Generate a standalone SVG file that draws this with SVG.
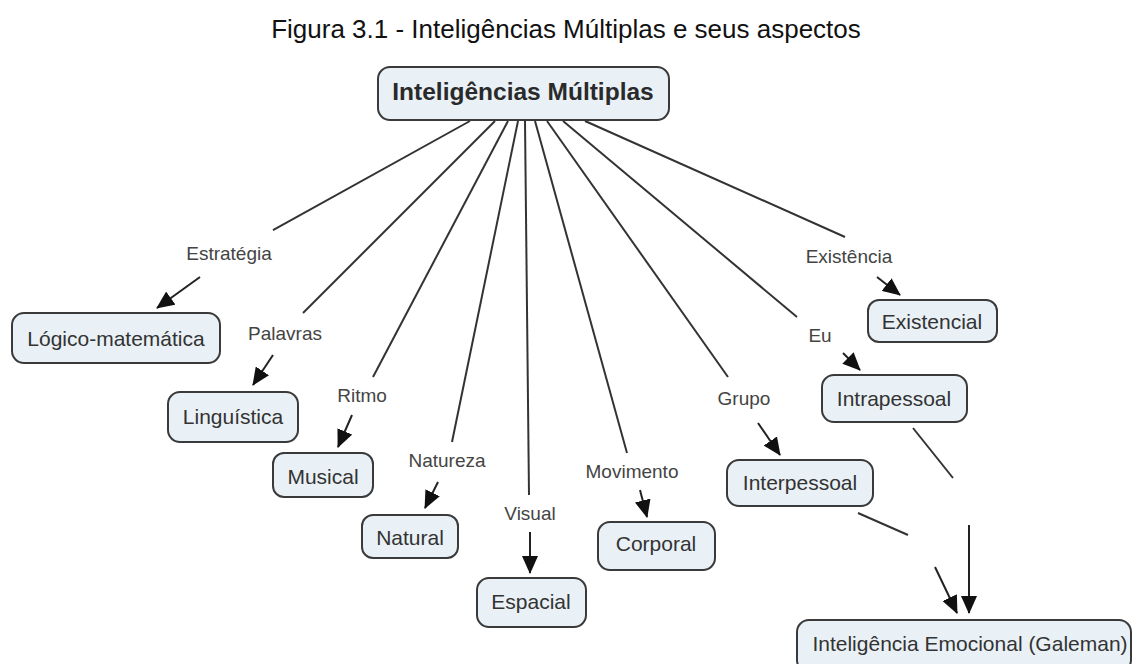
<svg xmlns="http://www.w3.org/2000/svg" width="1133" height="664" viewBox="0 0 1133 664">
<style>
.node rect{fill:#e9f1f6;stroke:#3a3a3a;stroke-width:2}
.node text{font-family:"Liberation Sans",Arial,sans-serif;font-size:21px;fill:#333;text-anchor:middle}
.lbl{font-family:"Liberation Sans",Arial,sans-serif;font-size:19px;fill:#444;text-anchor:middle}
.ln{stroke:#333;stroke-width:2;fill:none}
.ar{stroke:#222;stroke-width:2;fill:none;marker-end:url(#ah)}
</style>
<defs>
<marker id="ah" markerUnits="userSpaceOnUse" markerWidth="18" markerHeight="16" refX="17" refY="8" orient="auto">
<path d="M0,0 L18,8 L0,16 z" fill="#111"/>
</marker>
</defs>
<rect width="1133" height="664" fill="#fff"/>
<text x="566" y="38" font-family="'Liberation Sans',Arial,sans-serif" font-size="26" fill="#111" text-anchor="middle">Figura 3.1 - Inteligências Múltiplas e seus aspectos</text>
<g id="connectors">
<line class="ln" x1="470" y1="121" x2="273" y2="230"/>
<line class="ln" x1="495" y1="121" x2="303" y2="313"/>
<line class="ln" x1="508" y1="121" x2="373" y2="377"/>
<line class="ln" x1="518" y1="121" x2="452" y2="442"/>
<line class="ln" x1="525" y1="121" x2="529" y2="495"/>
<line class="ln" x1="535" y1="121" x2="627" y2="453"/>
<line class="ln" x1="547" y1="121" x2="728" y2="377"/>
<line class="ln" x1="563" y1="121" x2="797" y2="317"/>
<line class="ln" x1="585" y1="121" x2="845" y2="237"/>
<line class="ar" x1="200" y1="277" x2="157" y2="308"/>
<line class="ar" x1="273" y1="355" x2="253" y2="385"/>
<line class="ar" x1="352" y1="415" x2="338" y2="447"/>
<line class="ar" x1="438" y1="482" x2="425" y2="508"/>
<line class="ar" x1="530" y1="532" x2="530" y2="573"/>
<line class="ar" x1="640" y1="490" x2="647" y2="517"/>
<line class="ar" x1="758" y1="423" x2="780" y2="455"/>
<line class="ar" x1="843" y1="353" x2="860" y2="370"/>
<line class="ar" x1="877" y1="277" x2="900" y2="295"/>
<line class="ln" x1="858" y1="513" x2="908" y2="535"/>
<line class="ln" x1="913" y1="428" x2="953" y2="478"/>
<line class="ar" x1="935" y1="567" x2="957" y2="613"/>
<line class="ar" x1="969" y1="525" x2="969" y2="613"/>
<text class="lbl" x="229" y="260">Estratégia</text>
<text class="lbl" x="285" y="340">Palavras</text>
<text class="lbl" x="362" y="402">Ritmo</text>
<text class="lbl" x="447" y="467">Natureza</text>
<text class="lbl" x="530" y="520">Visual</text>
<text class="lbl" x="632" y="478">Movimento</text>
<text class="lbl" x="744" y="405">Grupo</text>
<text class="lbl" x="820" y="342">Eu</text>
<text class="lbl" x="849" y="263">Existência</text>
</g>
<g id="root" class="node"><rect x="378" y="67" width="291" height="53" rx="12"/><text x="523" y="100" style="font-weight:bold;font-size:24.5px;fill:#2a2a2a">Inteligências Múltiplas</text></g>
<g id="logico" class="node"><rect x="12" y="313" width="208" height="50" rx="12"/><text x="116" y="346">Lógico-matemática</text></g>
<g id="linguistica" class="node"><rect x="168" y="392" width="130" height="50" rx="12"/><text x="233" y="424">Linguística</text></g>
<g id="musical" class="node"><rect x="273" y="453" width="100" height="44" rx="11"/><text x="323" y="484">Musical</text></g>
<g id="natural" class="node"><rect x="362" y="515" width="96" height="43" rx="11"/><text x="410" y="545">Natural</text></g>
<g id="espacial" class="node"><rect x="477" y="578" width="109" height="49" rx="12"/><text x="531" y="609">Espacial</text></g>
<g id="corporal" class="node"><rect x="598" y="522" width="117" height="48" rx="12"/><text x="656" y="551">Corporal</text></g>
<g id="interpessoal" class="node"><rect x="727" y="460" width="146" height="46" rx="12"/><text x="800" y="490">Interpessoal</text></g>
<g id="intrapessoal" class="node"><rect x="822" y="375" width="145" height="47" rx="12"/><text x="894" y="406">Intrapessoal</text></g>
<g id="existencial" class="node"><rect x="868" y="300" width="129" height="42" rx="11"/><text x="932" y="329">Existencial</text></g>
<g id="emocional" class="node"><rect x="797" y="620" width="334" height="52" rx="12"/><text x="970" y="651">Inteligência Emocional (Galeman)</text></g>
</svg>
